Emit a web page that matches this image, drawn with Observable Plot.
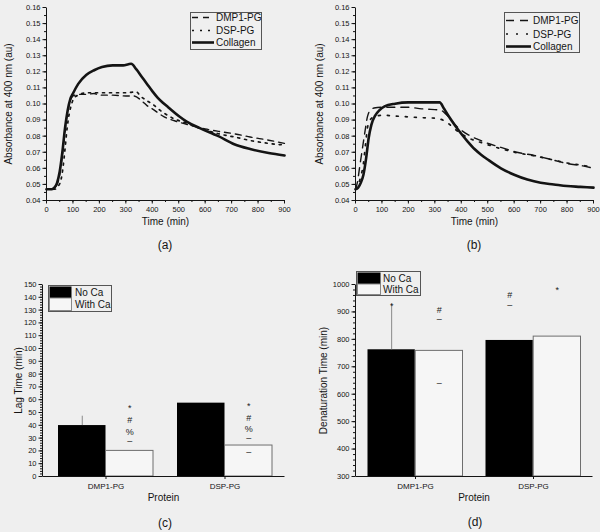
<!DOCTYPE html>
<html><head><meta charset="utf-8">
<script src="https://cdn.jsdelivr.net/npm/d3@7"></script>
<script src="https://cdn.jsdelivr.net/npm/@observablehq/plot@0.6"></script>
<style>
html,body{margin:0;padding:0;background:#efefef;}
#fig{position:relative;width:600px;height:532px;background:#efefef;overflow:hidden;font-family:"Liberation Sans",Arial,sans-serif;color:#151515;}
.cap{position:absolute;font-size:12px;line-height:12px;transform:translate(-50%,-50%);white-space:nowrap;}
svg.leg{position:absolute;overflow:visible;}
svg.leg text{font-family:"Liberation Sans",Arial,sans-serif;font-size:10px;fill:#151515;dominant-baseline:central;}
</style></head>
<body><div id="fig"></div>
<script>
// ---------- DATA ----------
const timeTicks = [0,100,200,300,400,500,600,700,800,900];
const absTicks = [0.04,0.05,0.06,0.07,0.08,0.09,0.10,0.11,0.12,0.13,0.14,0.15,0.16];
const seriesNames = ["DMP1-PG","DSP-PG","Collagen"];

// Panel (a): [time (min), absorbance]
const dmp1A = [[0,0.047],[20,0.047],[40,0.050],[50,0.056],[60,0.068],[70,0.083],[80,0.095],[90,0.102],[100,0.105],[120,0.106],[150,0.106],[180,0.1065],[200,0.1055],[250,0.1055],[300,0.105],[330,0.105],[360,0.102],[380,0.099],[400,0.097],[445,0.092],[495,0.089],[550,0.0865],[600,0.0845],[650,0.083],[710,0.0815],[770,0.0795],[840,0.0775],[900,0.0755]];
const dspA = [[0,0.047],[30,0.047],[45,0.049],[55,0.053],[62,0.060],[70,0.072],[78,0.085],[86,0.094],[95,0.100],[105,0.104],[120,0.1055],[150,0.107],[200,0.107],[250,0.107],[300,0.107],[340,0.1075],[355,0.105],[380,0.102],[400,0.100],[430,0.096],[480,0.091],[530,0.088],[580,0.085],[650,0.0815],[710,0.0795],[780,0.077],[840,0.0755],[900,0.0745]];
const collagenA = [[0,0.047],[20,0.047],[30,0.048],[40,0.051],[50,0.058],[60,0.070],[70,0.085],[80,0.096],[90,0.103],[100,0.1065],[120,0.1125],[150,0.118],[180,0.121],[210,0.123],[250,0.124],[290,0.124],[310,0.1247],[320,0.125],[340,0.1215],[360,0.117],[380,0.1125],[400,0.108],[420,0.104],[440,0.1008],[460,0.098],[500,0.0925],[530,0.089],[580,0.085],[650,0.080],[710,0.075],[770,0.072],[840,0.0695],[900,0.068]];

// Panel (b)
const dmp1B = [[0,0.047],[8,0.052],[15,0.060],[25,0.071],[35,0.082],[45,0.092],[55,0.096],[70,0.0975],[100,0.098],[150,0.098],[200,0.098],[250,0.097],[300,0.0965],[320,0.0963],[340,0.094],[385,0.0857],[425,0.081],[485,0.0765],[550,0.073],[610,0.070],[675,0.068],[740,0.0655],[800,0.063],[860,0.0615],[900,0.060]];
const dspB = [[0,0.047],[10,0.050],[20,0.055],[30,0.063],[38,0.075],[45,0.085],[55,0.090],[70,0.092],[100,0.093],[150,0.0925],[200,0.092],[250,0.0915],[300,0.0912],[330,0.090],[350,0.088],[375,0.0845],[420,0.0795],[485,0.0755],[550,0.0722],[610,0.0697],[675,0.0678],[740,0.0655],[800,0.0633],[860,0.0618],[900,0.0608]];
const collagenB = [[0,0.047],[10,0.048],[20,0.051],[30,0.056],[40,0.066],[50,0.079],[60,0.087],[75,0.093],[90,0.096],[110,0.0985],[150,0.1002],[200,0.101],[250,0.101],[300,0.101],[318,0.101],[335,0.097],[350,0.093],[375,0.087],[400,0.0815],[425,0.0765],[450,0.072],[475,0.0685],[500,0.0655],[550,0.060],[600,0.056],[650,0.053],[700,0.051],[750,0.050],[800,0.049],[850,0.0485],[900,0.048]];

// Panels (c) and (d)
const proteins = ["DMP1-PG","DSP-PG"];
const conditions = ["No Ca","With Ca"];
const lagTicks = [0,10,20,30,40,50,60,70,80,90,100,110,120,130,140,150];
const lagNoCa = [39.8, 57.3];
const lagWithCa = [20, 24.2];
const lagErr = [["DMP1-PG", 39.8, 47.1]];           // [protein, bar value, upper]
const lagSymbols = [
  ["DMP1-PG","With Ca",55,"*"],["DMP1-PG","With Ca",43.8,"#"],["DMP1-PG","With Ca",34.6,"%"],["DMP1-PG","With Ca",27.9,"–"],
  ["DSP-PG","With Ca",57.3,"*"],["DSP-PG","With Ca",45.9,"#"],["DSP-PG","With Ca",37.2,"%"],["DSP-PG","With Ca",30.2,"–"],["DSP-PG","With Ca",19,"–"]
];
const denatTicks = [300,400,500,600,700,800,900,1000];
const denatNoCa = [762, 796];
const denatWithCa = [758, 810];
const denatErr = [["DMP1-PG", 762, 929]];
const denatSymbols = [
  ["DMP1-PG","No Ca",931,"*"],["DMP1-PG","With Ca",907,"#"],["DMP1-PG","With Ca",875,"–"],["DMP1-PG","With Ca",640,"–"],
  ["DSP-PG","No Ca",960,"#"],["DSP-PG","No Ca",926,"–"],["DSP-PG","With Ca",990,"*"]
];

// ---------- DRAWING ----------
const fig = document.getElementById("fig");
const FONT = '"Liberation Sans", Arial, sans-serif';
const INK = "#141414";
const baseStyle = {background: "transparent", fontFamily: FONT, color: INK, overflow: "visible"};

function place(el, left, top) {
  el.style.position = "absolute";
  el.style.left = left + "px";
  el.style.top = top + "px";
  el.style.maxWidth = "none";
  fig.appendChild(el);
}
function caption(txt, x, y) {
  const d = document.createElement("div");
  d.className = "cap"; d.textContent = txt;
  d.style.left = x + "px"; d.style.top = y + "px";
  fig.appendChild(d);
}
function range(a, b, s) { return d3.range(a, b + s / 2, s); }

function linePanel({dmp1, dsp, collagen, left, marginLeft, marginRight, yLabelX, dashA, dotA}) {
  const width = 300, height = 232, marginTop = 7, marginBottom = 32;
  const fw = width - marginLeft - marginRight, fh = height - marginTop - marginBottom;
  const acc = {x: d => d[0], y: d => d[1], curve: "monotone-x", stroke: INK};
  const svg = Plot.plot({
    width, height, marginLeft, marginRight, marginTop, marginBottom,
    style: baseStyle,
    x: {domain: [timeTicks[0], timeTicks[timeTicks.length - 1]]},
    y: {domain: [absTicks[0], absTicks[absTicks.length - 1]]},
    marks: [
      Plot.frame({stroke: INK, strokeDasharray: `0 ${fw + fh} ${fw + fh}`}),
      Plot.axisX({ticks: range(0, 900, 50), tickSize: 2, tickFormat: () => "", label: null}),
      Plot.axisX({ticks: timeTicks, tickSize: 3.5, tickPadding: 3, fontSize: 7.5, tickFormat: d3.format("d"), label: null}),
      Plot.axisY({ticks: range(0.04, 0.16, 0.005), tickSize: 2, tickFormat: () => "", label: null}),
      Plot.axisY({ticks: absTicks, tickSize: 3.5, tickPadding: 2.5, fontSize: 7.5, tickFormat: d3.format(".2f"), label: null}),
      Plot.text(["Time (min)"], {text: d => d, frameAnchor: "bottom", textAnchor: "middle", dy: 24, fontSize: 10}),
      Plot.text(["Absorbance at 400 nm (au)"], {text: d => d, frameAnchor: "left", textAnchor: "middle", rotate: -90, dx: yLabelX - marginLeft, fontSize: 10}),
      Plot.line(dmp1, {...acc, strokeWidth: 1.4, strokeDasharray: dashA}),
      Plot.line(dsp, {...acc, strokeWidth: 1.7, strokeDasharray: dotA}),
      Plot.line(collagen, {...acc, strokeWidth: 2.6})
    ]
  });
  place(svg, left, 0);
}

function barPanel({noCa, withCa, err, symbols, ticks, minorStep, yLabel, left, top, marginLeft, marginRight, yLabelX, xOpts, insetNear, insetFar}) {
  const width = 300, height = 242, marginTop = 14, marginBottom = 36;
  const fw = width - marginLeft - marginRight, fh = height - marginTop - marginBottom;
  const base = ticks[0];
  const off = (insetFar - insetNear) / 2; // offset of bar centre from band centre
  const textFor = (cond, star) => Plot.text(
    symbols.filter(s => s[1] === cond && (s[3] === "*") === star),
    {x: d => d[0], y: d => d[2], text: d => d[3], dx: cond === conditions[0] ? -off : off, dy: star ? 2.5 : 0, fontSize: 9, fill: "#1a1a1a"}
  );
  const svg = Plot.plot({
    width, height, marginLeft, marginRight, marginTop, marginBottom,
    style: baseStyle,
    x: {domain: proteins, ...xOpts},
    y: {domain: [ticks[0], ticks[ticks.length - 1]]},
    marks: [
      Plot.barY(proteins, {x: d => d, y1: () => base, y2: (d, i) => noCa[i], fill: "#000", insetLeft: insetNear, insetRight: insetFar}),
      Plot.barY(proteins, {x: d => d, y1: () => base, y2: (d, i) => withCa[i], fill: "#f6f6f6", stroke: "#6e6e6e", strokeWidth: 1, insetLeft: insetFar, insetRight: insetNear}),
      Plot.ruleX(err, {x: d => d[0], y1: d => d[1], y2: d => d[2], dx: -off, stroke: "#8a8a8a", strokeWidth: 1}),
      textFor(conditions[0], false), textFor(conditions[0], true),
      textFor(conditions[1], false), textFor(conditions[1], true),
      Plot.frame({stroke: INK, strokeDasharray: `0 ${fw + fh} ${fw + fh}`}),
      Plot.axisX({tickSize: 3, tickPadding: 4, fontSize: 8, label: null}),
      Plot.axisY({ticks: range(ticks[0], ticks[ticks.length - 1], minorStep), tickSize: 2, tickFormat: () => "", label: null}),
      Plot.axisY({ticks, tickSize: 3.5, tickPadding: 2.5, fontSize: 7.5, tickFormat: d3.format("d"), label: null}),
      Plot.text(["Protein"], {text: d => d, frameAnchor: "bottom", textAnchor: "middle", dy: 24, fontSize: 10}),
      Plot.text([yLabel], {text: d => d, frameAnchor: "left", textAnchor: "middle", rotate: -90, dx: yLabelX - marginLeft, fontSize: 10})
    ]
  });
  place(svg, left, top);
}

linePanel({dmp1: dmp1A, dsp: dspA, collagen: collagenA, left: 0, marginLeft: 46, marginRight: 16, yLabelX: 8.5, dashA: "6,5", dotA: "2,5"});
linePanel({dmp1: dmp1B, dsp: dspB, collagen: collagenB, left: 300, marginLeft: 55, marginRight: 7, yLabelX: 19.5, dashA: "8,6", dotA: "2,7"});

barPanel({noCa: lagNoCa, withCa: lagWithCa, err: lagErr, symbols: lagSymbols, ticks: lagTicks, minorStep: 2,
  yLabel: "Lag Time (min)", left: 0, top: 270, marginLeft: 42, marginRight: 16, yLabelX: 18.5,
  xOpts: {paddingInner: 0, paddingOuter: 0.0168, align: 1}, insetNear: 12, insetFar: 59.5});
barPanel({noCa: denatNoCa, withCa: denatWithCa, err: denatErr, symbols: denatSymbols, ticks: denatTicks, minorStep: 20,
  yLabel: "Denaturation Time (min)", left: 300, top: 270, marginLeft: 55, marginRight: 8, yLabelX: 23.5,
  xOpts: {paddingInner: 0, paddingOuter: 0}, insetNear: 11.5, insetFar: 59.2});

// ---------- LEGENDS ----------
function lineLegend(left, top, w, h, rows, x0, x1, tx, dash, dot) {
  const ns = "http://www.w3.org/2000/svg";
  const s = document.createElementNS(ns, "svg");
  s.setAttribute("class", "leg");
  s.setAttribute("width", w); s.setAttribute("height", h);
  s.style.left = left + "px"; s.style.top = top + "px";
  const styles = [
    `stroke-width="1.4" stroke-dasharray="${dash}"`,
    `stroke-width="1.7" stroke-dasharray="${dot}"`,
    `stroke-width="2.6"`
  ];
  let html = `<rect x="0.5" y="0.5" width="${w - 1}" height="${h - 1}" fill="none" stroke="#555" stroke-width="1"/>`;
  seriesNames.forEach((n, i) => {
    html += `<line x1="${x0}" x2="${x1}" y1="${rows[i]}" y2="${rows[i]}" stroke="${INK}" ${styles[i]}/>`;
    html += `<text x="${tx}" y="${rows[i]}">${n}</text>`;
  });
  s.innerHTML = html;
  fig.appendChild(s);
}
function barLegend(left, top, w, h, sw, rowH, tx) {
  const ns = "http://www.w3.org/2000/svg";
  const s = document.createElementNS(ns, "svg");
  s.setAttribute("class", "leg");
  s.setAttribute("width", w); s.setAttribute("height", h);
  s.style.left = left + "px"; s.style.top = top + "px";
  let html = `<rect x="0.5" y="0.5" width="${w - 1}" height="${h - 1}" fill="none" stroke="#555" stroke-width="1"/>`;
  html += `<rect x="1.5" y="1.5" width="${sw}" height="${rowH}" fill="#000"/>`;
  html += `<rect x="1.5" y="${1.5 + rowH}" width="${sw}" height="${h - 3 - rowH}" fill="#f6f6f6" stroke="#888" stroke-width="1"/>`;
  html += `<text x="${tx}" y="${1.5 + rowH / 2}">${conditions[0]}</text>`;
  html += `<text x="${tx}" y="${1.5 + rowH + (h - 3 - rowH) / 2}">${conditions[1]}</text>`;
  s.innerHTML = html;
  fig.appendChild(s);
}
lineLegend(190, 12, 72, 38, [5.5, 18.5, 30.5], 2, 24, 26, "6,5", "2,6");
lineLegend(504, 12, 76, 41, [8.5, 22, 34.5], 2, 27, 29, "8,6", "2,8");
barLegend(48, 285, 64, 27, 22, 11.5, 27);
barLegend(356, 271, 65, 25, 23, 11.5, 27);

caption("(a)", 165, 245);
caption("(b)", 474, 245);
caption("(c)", 165, 523);
caption("(d)", 475, 522);
</script>
</body></html>
